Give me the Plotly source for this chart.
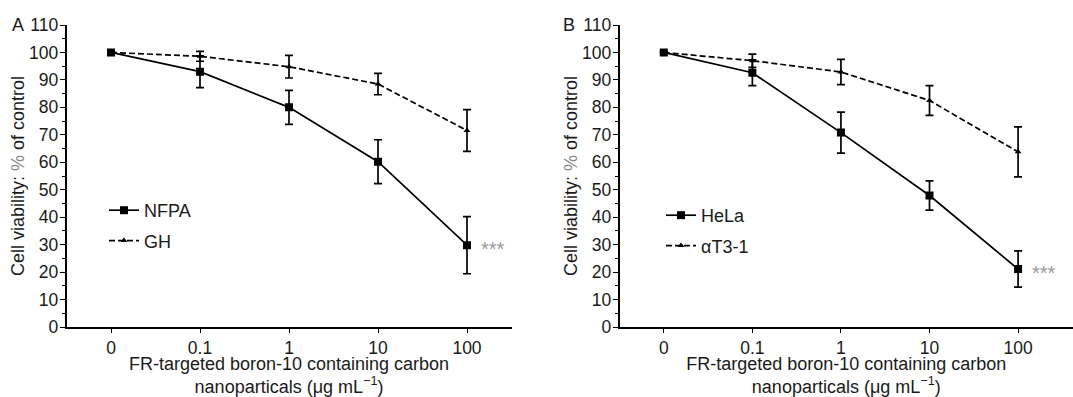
import plotly.graph_objects as go

# ---- data ----
conc_labels = ["0", "0.1", "1", "10", "100"]

nfpa = [100, 93.0, 80.0, 60.2, 29.8]
nfpa_err = [0, 5.8, 6.2, 8.0, 10.4]
gh = [100, 98.6, 94.8, 88.5, 71.6]
gh_err = [0, 1.8, 4.1, 3.9, 7.6]

hela = [100, 92.6, 70.8, 47.9, 21.1]
hela_err = [0, 4.7, 7.5, 5.3, 6.6]
at31 = [100, 97.0, 92.9, 82.5, 63.8]
at31_err = [0, 2.4, 4.6, 5.4, 9.1]

panels = [
    dict(name="A", s1=("NFPA", nfpa, nfpa_err), s2=("GH", gh, gh_err)),
    dict(name="B", s1=("HeLa", hela, hela_err), s2=("αT3-1", at31, at31_err)),
]

FONT = "Liberation Sans, Arial, Helvetica, sans-serif"
TXT = "#1a1a1a"
W, H = 1073, 397
TICK_SIZE = 17.5
TITLE_SIZE = 18

fig = go.Figure()

def px_x(p):
    return p / W

def px_y(p):
    return (H - p) / H

x_domains = [[px_x(66.5), px_x(511.5)], [px_x(619.5), 1.0]]
x_ranges = [[-0.5, 4.5], [-0.5, 4.62]]
y_domain = [px_y(327), px_y(25)]
legend_pos = [(px_x(104), px_y(192)), (px_x(661), px_y(197))]
letter_pos = [px_x(18), px_x(569)]

for i, p in enumerate(panels):
    xa = "x" if i == 0 else "x2"
    ya = "y" if i == 0 else "y2"
    lg = "legend" if i == 0 else "legend2"
    n1, v1, e1 = p["s1"]
    n2, v2, e2 = p["s2"]
    fig.add_trace(go.Scatter(
        x=conc_labels, y=v1, name=n1, mode="lines+markers",
        line=dict(color="black", width=1.7),
        marker=dict(symbol="square", size=8, color="black"),
        error_y=dict(type="data", array=e1, visible=True, color="black",
                     thickness=1.7, width=4),
        xaxis=xa, yaxis=ya, legend=lg, legendgroup=f"{i}a",
    ))
    fig.add_trace(go.Scatter(
        x=conc_labels, y=v2, name=n2, mode="lines+markers",
        line=dict(color="black", width=1.7, dash="6px,3px"),
        marker=dict(symbol="triangle-up", size=6, color="black"),
        error_y=dict(type="data", array=e2, visible=True, color="black",
                     thickness=1.7, width=4),
        xaxis=xa, yaxis=ya, legend=lg, legendgroup=f"{i}b",
    ))
    # significance stars
    fig.add_annotation(
        x=4, y=v1[-1], xref=xa, yref=ya, text="***", showarrow=False,
        xanchor="left", xshift=12, yshift=-4,
        font=dict(family=FONT, size=20, color="#9a9a9a"),
    )
    # panel letter
    fig.add_annotation(
        x=letter_pos[i], y=px_y(25), xref="paper", yref="paper",
        text=p["name"], showarrow=False, xanchor="center", yanchor="middle",
        font=dict(family=FONT, size=TITLE_SIZE, color=TXT),
    )

axis_common_x = dict(
    type="category", categoryorder="array", categoryarray=conc_labels,
    automargin=False,
    showline=True, linecolor="black", linewidth=1.7,
    ticks="outside", ticklen=4, tickwidth=1.3, tickcolor="black",
    showgrid=False, zeroline=False,
    tickfont=dict(family=FONT, size=TICK_SIZE, color=TXT),
    title=dict(text="FR-targeted boron-10 containing carbon<br>nanoparticals (μg mL<sup>−1</sup>)",
               font=dict(family=FONT, size=TITLE_SIZE, color=TXT), standoff=6),
)
axis_common_y = dict(
    range=[0, 110], dtick=10, tick0=0, automargin=False,
    showline=True, linecolor="black", linewidth=1.7,
    ticks="outside", ticklen=5, tickwidth=1.3, tickcolor="black",
    ticklabelstandoff=-2,
    minor=dict(dtick=5, ticks="outside", ticklen=3, tickwidth=1, tickcolor="black"),
    showgrid=False, zeroline=False,
    tickfont=dict(family=FONT, size=TICK_SIZE, color=TXT),
    title=dict(text="Cell viability: <span style='color:#888888'>%</span> of control",
               font=dict(family=FONT, size=TITLE_SIZE, color=TXT), standoff=0),
    domain=y_domain,
)

fig.update_layout(
    width=W, height=H,
    margin=dict(l=0, r=0, t=0, b=0, autoexpand=False),
    paper_bgcolor="white", plot_bgcolor="white",
    xaxis=dict(axis_common_x, domain=x_domains[0], range=x_ranges[0], anchor="y"),
    yaxis=dict(axis_common_y, anchor="x"),
    xaxis2=dict(axis_common_x, domain=x_domains[1], range=x_ranges[1], anchor="y2"),
    yaxis2=dict(axis_common_y, anchor="x2"),
    legend=dict(x=legend_pos[0][0], y=legend_pos[0][1], xanchor="left", yanchor="top",
                bgcolor="rgba(0,0,0,0)", font=dict(family=FONT, size=TITLE_SIZE, color=TXT),
                tracegroupgap=4, itemclick=False),
    legend2=dict(x=legend_pos[1][0], y=legend_pos[1][1], xanchor="left", yanchor="top",
                 bgcolor="rgba(0,0,0,0)", font=dict(family=FONT, size=TITLE_SIZE, color=TXT),
                 tracegroupgap=4, itemclick=False),
    showlegend=True,
)

fig.write_html(
    "out.html",
    config={"displayModeBar": False},
    post_script="document.body.style.margin='0';document.body.style.overflow='hidden';",
)
